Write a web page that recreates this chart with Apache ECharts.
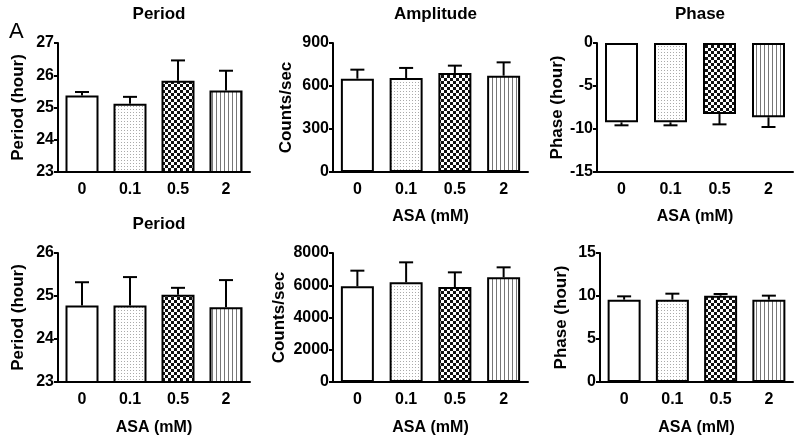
<!DOCTYPE html>
<html>
<head>
<meta charset="utf-8">
<script src="https://cdn.jsdelivr.net/npm/echarts@6/dist/echarts.min.js"></script>
<style>html,body{margin:0;padding:0;background:#fff;}#c{width:800px;height:438px;}</style>
</head>
<body>
<div id="c"></div>
<script>
const categories = ['0', '0.1', '0.5', '2'];
const periodTopVals = [25.37, 25.12, 25.83, 25.53];
const periodTopErr = [0.11, 0.21, 0.63, 0.61];
const ampTopVals = [651, 656, 691, 672];
const ampTopErr = [63, 70, 51, 93];
const phaseTopVals = [-9.22, -9.22, -8.26, -8.64];
const phaseTopErr = [0.35, 0.35, 1.2, 1.13];
const periodBotVals = [24.78, 24.78, 25.03, 24.74];
const periodBotErr = [0.54, 0.66, 0.16, 0.63];
const ampBotVals = [5933, 6181, 5891, 6491];
const ampBotErr = [971, 1240, 909, 620];
const phaseBotVals = [9.57, 9.57, 10.04, 9.57];
const phaseBotErr = [0.39, 0.70, 0.19, 0.47];

function makeCanvas(w, h, draw) {
  const c = document.createElement('canvas');
  c.width = w; c.height = h;
  const ctx = c.getContext('2d');
  ctx.fillStyle = '#fff'; ctx.fillRect(0, 0, w, h);
  draw(ctx);
  return c;
}
const dotPat = makeCanvas(3, 3, ctx => { ctx.fillStyle = '#aaa'; ctx.fillRect(1, 1, 1, 1); });
const checkPat = makeCanvas(6, 6, ctx => { ctx.fillStyle = '#111'; ctx.fillRect(0, 0, 3, 3); ctx.fillRect(3, 3, 3, 3); });
const stripePat = makeCanvas(4, 4, ctx => { ctx.fillStyle = '#777'; ctx.fillRect(0, 0, 1, 4); });
const fills = [
  '#fff',
  { image: dotPat, repeat: 'repeat' },
  { image: checkPat, repeat: 'repeat' },
  { image: stripePat, repeat: 'repeat' }
];

const FONT = 'Liberation Sans';
const panels = [
  { vals: periodTopVals, err: periodTopErr, left: 58, top: 43, width: 192, min: 23, max: 27, interval: 1, yname: 'Period (hour)', ygap: 31, xname: '', title: 'Period' },
  { vals: ampTopVals, err: ampTopErr, left: 333, top: 43, width: 195, min: 0, max: 900, interval: 300, yname: 'Counts/sec', ygap: 38, xname: 'ASA (mM)', xgap: 37, title: 'Amplitude' },
  { vals: phaseTopVals, err: phaseTopErr, left: 597, top: 43, width: 196, min: -15, max: 0, interval: 5, yname: 'Phase (hour)', ygap: 27, xname: 'ASA (mM)', xgap: 37, title: 'Phase' },
  { vals: periodBotVals, err: periodBotErr, left: 58, top: 253, width: 192, min: 23, max: 26, interval: 1, yname: 'Period (hour)', ygap: 31, xname: 'ASA (mM)', xgap: 38, title: 'Period' },
  { vals: ampBotVals, err: ampBotErr, left: 333, top: 253, width: 195, min: 0, max: 8000, interval: 2000, yname: 'Counts/sec', ygap: 45, xname: 'ASA (mM)', xgap: 38, title: '' },
  { vals: phaseBotVals, err: phaseBotErr, left: 600, top: 253, width: 193, min: 0, max: 15, interval: 5, yname: 'Phase (hour)', ygap: 30, xname: 'ASA (mM)', xgap: 38, title: '' }
];

const grid = [], xAxis = [], yAxis = [], series = [], title = [];
const lineStyle = { color: '#000', width: 2 };
panels.forEach((p, i) => {
  grid.push({ left: p.left, top: p.top, width: p.width, height: 129 });
  xAxis.push({
    type: 'category', gridIndex: i, data: categories,
    position: 'bottom',
    axisLine: { onZero: false, lineStyle },
    axisTick: { show: false },
    axisLabel: { color: '#000', fontFamily: FONT, fontWeight: 'bold', fontSize: 16, margin: 10 },
    name: p.xname, nameLocation: 'middle', nameGap: p.xgap || 30,
    nameTextStyle: { color: '#000', fontFamily: FONT, fontWeight: 'bold', fontSize: 16 }
  });
  yAxis.push({
    type: 'value', gridIndex: i, min: p.min, max: p.max, interval: p.interval,
    axisLine: { show: true, lineStyle },
    axisTick: { show: true, length: 4, lineStyle },
    splitLine: { show: false },
    axisLabel: { color: '#000', fontFamily: FONT, fontWeight: 'bold', fontSize: 16, margin: 4, formatter: v => String(v) },
    name: p.yname, nameLocation: 'middle', nameGap: p.ygap, nameRotate: 90,
    nameTextStyle: { color: '#000', fontFamily: FONT, fontWeight: 'bold', fontSize: 17 }
  });
  series.push({
    type: 'bar', xAxisIndex: i, yAxisIndex: i, barWidth: 33, clip: true,
    data: p.vals.map((v, k) => ({ value: v, itemStyle: { color: fills[k], borderColor: '#000', borderWidth: 2 } })),
    z: 2
  });
  series.push({
    type: 'custom', xAxisIndex: i, yAxisIndex: i, z: 1,
    data: p.vals.map((v, k) => [k, v, v + (v < 0 ? -p.err[k] : p.err[k])]),
    encode: { x: 0, y: [1, 2] },
    renderItem: (params, api) => {
      const a = api.coord([api.value(0), api.value(1)]);
      const b = api.coord([api.value(0), api.value(2)]);
      const hw = 7;
      return {
        type: 'group', children: [
          { type: 'line', shape: { x1: a[0], y1: a[1], x2: b[0], y2: b[1] }, style: { stroke: '#000', lineWidth: 2 } },
          { type: 'line', shape: { x1: b[0] - hw, y1: b[1], x2: b[0] + hw, y2: b[1] }, style: { stroke: '#000', lineWidth: 2 } }
        ]
      };
    }
  });
  if (p.title) {
    title.push({
      text: p.title, left: p.left + p.width / 2, top: p.top - 42, textAlign: 'center',
      textStyle: { color: '#000', fontFamily: FONT, fontWeight: 'bold', fontSize: 17 }
    });
  }
});
title.push({ text: 'A', left: 4, top: 16, textStyle: { color: '#000', fontFamily: FONT, fontWeight: 'normal', fontSize: 22 } });

const chart = echarts.init(document.getElementById('c'), null, { renderer: 'canvas' });
chart.setOption({ animation: false, backgroundColor: '#fff', title, grid, xAxis, yAxis, series });
</script>
</body>
</html>
